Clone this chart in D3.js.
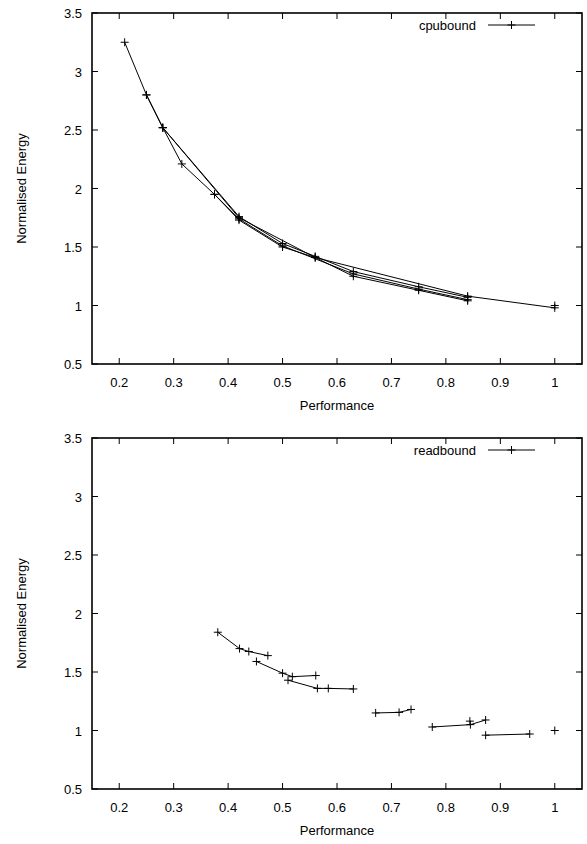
<!DOCTYPE html>
<html>
<head>
<meta charset="utf-8">
<script src="https://cdn.jsdelivr.net/npm/d3@7"></script>
<style>
  body { margin: 0; background: #fff; }
  text { font-family: "Liberation Sans", Arial, sans-serif; font-size: 13px; fill: #000; }
</style>
</head>
<body>
<div id="chart"></div>
<script>
// x ticks / y ticks shared by both panels
const xTicks = [0.2, 0.3, 0.4, 0.5, 0.6, 0.7, 0.8, 0.9, 1];
const yTicks = [0.5, 1, 1.5, 2, 2.5, 3, 3.5];

// cpubound: several runs, each a block of [performance, energy]
const cpuRun1 = [[0.21, 3.25], [0.25, 2.80], [0.28, 2.52], [0.315, 2.21], [0.375, 1.95], [0.42, 1.73],
  [0.50, 1.50], [0.56, 1.41], [0.63, 1.25], [0.75, 1.13], [0.84, 1.04]];
const cpuRun2 = [[0.25, 2.80], [0.28, 2.52], [0.42, 1.76], [0.50, 1.53], [0.56, 1.42], [0.63, 1.29],
  [0.75, 1.16], [0.84, 1.07]];
const cpuRun3 = [[0.28, 2.52], [0.42, 1.75], [0.56, 1.41], [0.84, 1.08], [1.0, 0.98]];
const cpuRun4 = [[0.375, 1.95], [0.42, 1.74], [0.50, 1.51], [0.63, 1.27], [0.75, 1.14], [0.84, 1.05]];
const cpuRun5 = [[1.0, 1.0]];

// readbound runs
const readRun1 = [[0.381, 1.84], [0.421, 1.70], [0.438, 1.675], [0.473, 1.64]];
const readRun2 = [[0.452, 1.59], [0.50, 1.49], [0.518, 1.46], [0.561, 1.47]];
const readRun3 = [[0.51, 1.43], [0.564, 1.36], [0.584, 1.36], [0.63, 1.355]];
const readRun4 = [[0.671, 1.15], [0.714, 1.155], [0.736, 1.18]];
const readRun5 = [[0.775, 1.03], [0.845, 1.05], [0.873, 1.09]];
const readRun6 = [[0.844, 1.08]];
const readRun7 = [[0.873, 0.96], [0.954, 0.97]];
const readRun8 = [[1.0, 1.0]];

const W = 587, H = 844;
const svg = d3.select("#chart").append("svg")
  .attr("width", W)
  .attr("height", H);

function panel(top, name, runs) {
  const left = 92, right = 582, bottom = top + 351;
  const x = d3.scaleLinear().domain([0.15, 1.05]).range([left, right]);
  const y = d3.scaleLinear().domain([0.5, 3.5]).range([bottom, top]);
  const g = svg.append("g");
  const tk = 6;

  // ticks on all four sides, pointing in
  g.selectAll(".xtb").data(xTicks).join("line")
    .attr("x1", d => x(d)).attr("x2", d => x(d))
    .attr("y1", bottom).attr("y2", bottom - tk)
    .attr("stroke", "#000");
  g.selectAll(".xtt").data(xTicks).join("line")
    .attr("x1", d => x(d)).attr("x2", d => x(d))
    .attr("y1", top).attr("y2", top + tk)
    .attr("stroke", "#000");
  g.selectAll(".ytl").data(yTicks).join("line")
    .attr("x1", left).attr("x2", left + tk)
    .attr("y1", d => y(d)).attr("y2", d => y(d))
    .attr("stroke", "#000");
  g.selectAll(".ytr").data(yTicks).join("line")
    .attr("x1", right).attr("x2", right - tk)
    .attr("y1", d => y(d)).attr("y2", d => y(d))
    .attr("stroke", "#000");

  g.append("rect")
    .attr("x", left).attr("y", top)
    .attr("width", right - left).attr("height", bottom - top)
    .attr("fill", "none").attr("stroke", "#000").attr("stroke-width", 1.6);

  // tick labels
  g.selectAll(".xl").data(xTicks).join("text")
    .attr("x", d => x(d)).attr("y", bottom + 23)
    .attr("text-anchor", "middle")
    .text(d => d);
  g.selectAll(".yl").data(yTicks).join("text")
    .attr("x", left - 10).attr("y", d => y(d) + 5)
    .attr("text-anchor", "end")
    .text(d => d);

  // axis titles
  g.append("text")
    .attr("x", (left + right) / 2).attr("y", bottom + 46)
    .attr("text-anchor", "middle")
    .text("Performance");
  g.append("text")
    .attr("transform", `translate(26,${(top + bottom) / 2}) rotate(-90)`)
    .attr("text-anchor", "middle")
    .text("Normalised Energy");

  const line = d3.line().x(d => x(d[0])).y(d => y(d[1]));
  runs.forEach(run => {
    g.append("path")
      .attr("d", line(run))
      .attr("fill", "none").attr("stroke", "#000").attr("stroke-width", 1);
    g.selectAll(null).data(run).join("path")
      .attr("d", d => `M${x(d[0]) - 4},${y(d[1])}h8M${x(d[0])},${y(d[1]) - 4}v8`)
      .attr("stroke", "#000").attr("stroke-width", 1);
  });

  // legend
  const ly = top + 12;
  g.append("text")
    .attr("x", 476).attr("y", ly + 5)
    .attr("text-anchor", "end")
    .text(name);
  g.append("line")
    .attr("x1", 488).attr("x2", 535)
    .attr("y1", ly).attr("y2", ly)
    .attr("stroke", "#000");
  g.append("path")
    .attr("d", `M507.5,${ly}h8M511.5,${ly - 4}v8`)
    .attr("stroke", "#000");
}

panel(13, "cpubound", [cpuRun1, cpuRun2, cpuRun3, cpuRun4, cpuRun5]);
panel(438, "readbound", [readRun1, readRun2, readRun3, readRun4, readRun5, readRun6, readRun7, readRun8]);
</script>
</body>
</html>
